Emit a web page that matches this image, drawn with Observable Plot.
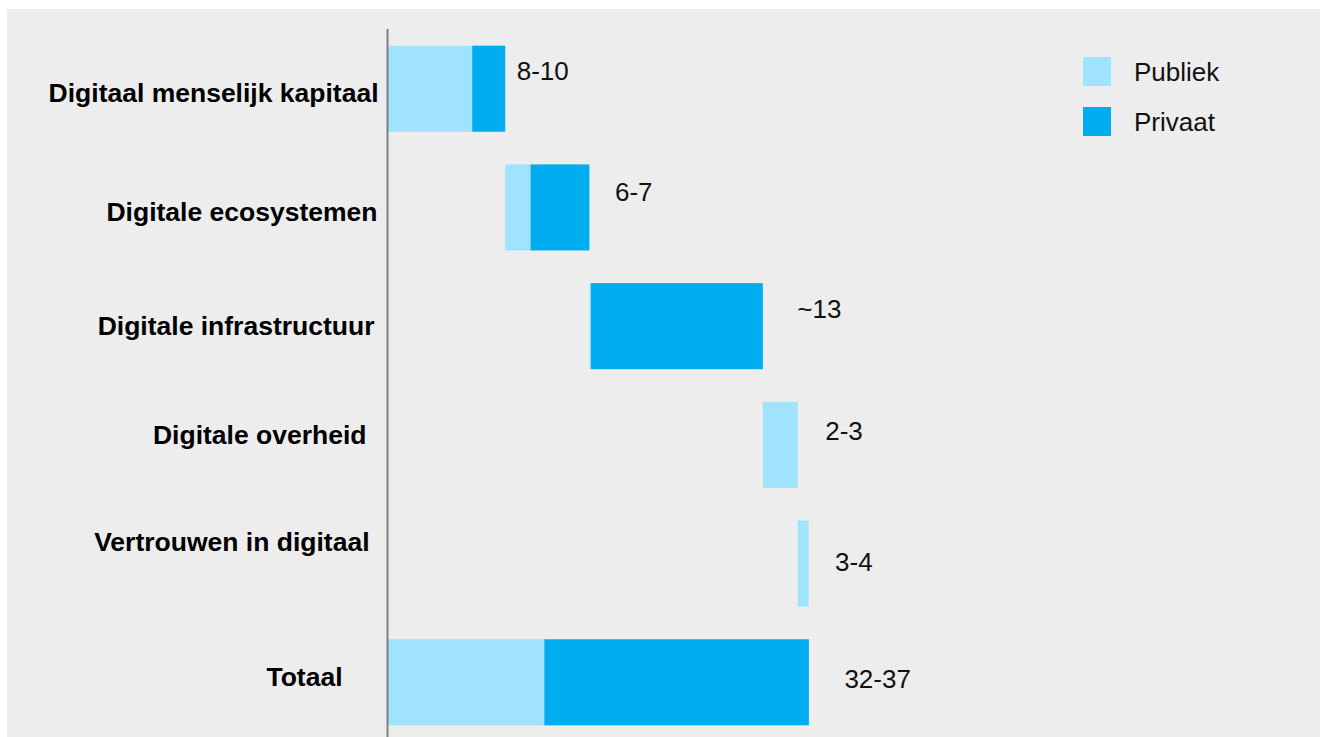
<!DOCTYPE html>
<html>
<head>
<meta charset="utf-8">
<script src="https://cdn.jsdelivr.net/npm/d3@7"></script>
<script src="https://cdn.jsdelivr.net/npm/@observablehq/plot@0.6"></script>
<style>
  html, body { margin: 0; padding: 0; background: #ffffff; overflow: hidden; }
  #wrap { position: relative; width: 1320px; height: 737px; overflow: hidden;
          font-family: "Liberation Sans", Arial, Helvetica, sans-serif; }
  #bg { position: absolute; left: 7px; top: 9px; width: 1313px; height: 728px; background: #ededed; }
  #chart { position: absolute; left: 0; top: 0; }
  .legend { position: absolute; left: 1083px; top: 57px; }
  .item { position: relative; height: 50px; }
  .sw { position: absolute; left: 0; top: 0; width: 28px; height: 29px; }
  .lab { position: absolute; left: 51px; top: 15px; transform: translateY(-50%);
         font-size: 26px; color: #111; white-space: nowrap; line-height: 1; }
</style>
</head>
<body>
<div id="wrap">
  <div id="bg"></div>
  <div id="chart"></div>
  <div class="legend" id="legend"></div>
</div>
<script>
// ---- data ----
const categories = [
  "Digitaal menselijk kapitaal",
  "Digitale ecosystemen",
  "Digitale infrastructuur",
  "Digitale overheid",
  "Vertrouwen in digitaal",
  "Totaal"
];
const seriesNames = ["Publiek", "Privaat"];
const publiek = [7.0, 2.1, 0.12, 2.9, 0.9, 13.0];
const privaat = [2.75, 4.9, 14.3, 0, 0, 22.0];
const rangeLabels = ["8-10", "6-7", "~13", "2-3", "3-4", "32-37"];
const totalCategory = "Totaal";

// ---- layout (text nudges, px) ----
const catLabelDx = [-10, -11, -14, -22, -19, -46];
const catLabelDy = [4, 5, 0, -10, -22, -5];
const valLabelDx = [11, 25, 34, 27, 26, 35];
const valLabelDy = [-18, -15, -17, -14, -1, -3];
const colors = ["#9fe3fc", "#00aeef"];

// ---- build waterfall segments ----
const segments = [];
const ends = [];
let cum = 0;
categories.forEach((c, i) => {
  const start = c === totalCategory ? 0 : cum;
  const p = publiek[i], q = privaat[i];
  if (p > 0) segments.push({cat: c, series: "Publiek", x1: start, x2: start + p});
  if (q > 0) segments.push({cat: c, series: "Privaat", x1: start + p, x2: start + p + q});
  ends.push({cat: c, end: start + p + q, label: rangeLabels[i], i});
  if (c !== totalCategory) cum = start + p + q;
});

const font = "'Liberation Sans', Arial, Helvetica, sans-serif";

const catMarks = categories.map((c, i) =>
  Plot.text([c], {
    y: d => d, text: d => d, frameAnchor: "left", textAnchor: "end",
    dx: catLabelDx[i], dy: catLabelDy[i],
    fontSize: 26.5, fontWeight: "bold", fill: "#000"
  })
);
const valMarks = ends.map((e, i) =>
  Plot.text([e], {
    x: "end", y: "cat", text: "label", textAnchor: "start",
    dx: valLabelDx[i], dy: valLabelDy[i],
    fontSize: 26, fill: "#111"
  })
);

const chart = Plot.plot({
  width: 1320,
  height: 737,
  marginLeft: 388,
  marginRight: 0,
  marginTop: 45.7,
  marginBottom: 11.7,
  style: {background: "transparent", fontFamily: font, overflow: "visible"},
  x: {domain: [0, 77.5], axis: null},
  y: {domain: categories, axis: null, paddingInner: 0.275, paddingOuter: 0, round: false},
  color: {domain: seriesNames, range: colors},
  marks: [
    Plot.barX(segments, {x1: "x1", x2: "x2", y: "cat", fill: "series"}),
    Plot.ruleX([0], {stroke: "#808080", strokeWidth: 2, dx: -1, insetTop: -16.7, insetBottom: -11.7}),
    ...catMarks,
    ...valMarks
  ]
});
document.getElementById("chart").appendChild(chart);

// legend
const leg = document.getElementById("legend");
seriesNames.forEach((s, i) => {
  const item = document.createElement("div");
  item.className = "item";
  const sw = document.createElement("div");
  sw.className = "sw";
  sw.style.background = colors[i];
  const lab = document.createElement("div");
  lab.className = "lab";
  lab.textContent = s;
  item.appendChild(sw);
  item.appendChild(lab);
  leg.appendChild(item);
});
</script>
</body>
</html>
